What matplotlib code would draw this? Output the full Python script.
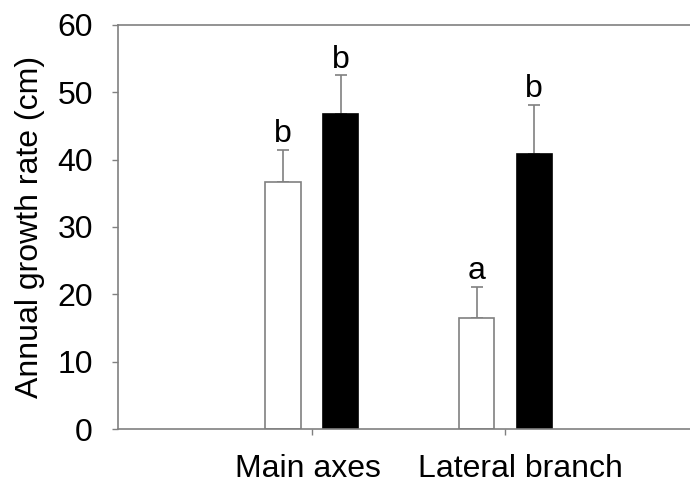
import matplotlib.pyplot as plt
import matplotlib.transforms as mtransforms
import numpy as np

plt.rcParams['font.family'] = ['Liberation Sans', 'DejaVu Sans']

# data
skupiny = ['Main axes', 'Lateral branch']
biele = [36.7, 16.5]          # open bars
biele_err = [4.7, 4.6]
cierne = [46.8, 40.9]         # filled bars
cierne_err = [5.7, 7.2]
pismena_biele = ['b', 'a']
pismena_cierne = ['b', 'b']

seda = '#808080'
x = np.arange(1, len(skupiny) + 1)
sirka = 0.183
posun = 0.149
velkost = 23

fig = plt.figure(figsize=(6.9, 4.87), dpi=100)
ax = fig.add_axes([0.171, 0.119, 0.829, 0.830])

ax.bar(x - posun, biele, sirka, color='white', edgecolor=seda, linewidth=1.2, zorder=2)
ax.bar(x + posun, cierne, sirka, color='black', edgecolor='black', linewidth=1.2, zorder=2)

# only upper error bars
ax.errorbar(x - posun, biele, yerr=[np.zeros(len(biele)), biele_err], fmt='none',
            ecolor=seda, elinewidth=1.2, capsize=4, capthick=1.2, zorder=1)
ax.errorbar(x + posun, cierne, yerr=[np.zeros(len(cierne)), cierne_err], fmt='none',
            ecolor=seda, elinewidth=1.2, capsize=4, capthick=1.2, zorder=1)

for xi, v, e, p in zip(x - posun, biele, biele_err, pismena_biele):
    ax.annotate(p, (xi, v + e), xytext=(0, 0.5), textcoords='offset points',
                ha='center', va='bottom', fontsize=velkost)
for xi, v, e, p in zip(x + posun, cierne, cierne_err, pismena_cierne):
    ax.annotate(p, (xi, v + e), xytext=(0, 0.5), textcoords='offset points',
                ha='center', va='bottom', fontsize=velkost)

ax.set_xlim(0, 2.953)
ax.set_ylim(0, 60)
ax.set_yticks(np.arange(0, 61, 10))
ax.set_xticks(x)
ax.set_xticklabels(skupiny, fontsize=velkost)
ax.tick_params(axis='y', labelsize=velkost, length=4, width=1, color=seda, pad=14)
ax.tick_params(axis='x', length=4, width=1, color=seda, pad=14)
ax.set_ylabel('Annual growth rate (cm)', fontsize=velkost, labelpad=9)

# category labels sit a little off their ticks in the original
posuny_px = [-4, 15]
for lab, dx in zip(ax.get_xticklabels(), posuny_px):
    lab.set_transform(lab.get_transform() + mtransforms.ScaledTranslation(dx / 100, 0, fig.dpi_scale_trans))

for s in ['left', 'top', 'bottom']:
    ax.spines[s].set_color(seda)
    ax.spines[s].set_linewidth(1.2)
ax.spines['right'].set_visible(False)

plt.savefig('out.png', dpi=100)
